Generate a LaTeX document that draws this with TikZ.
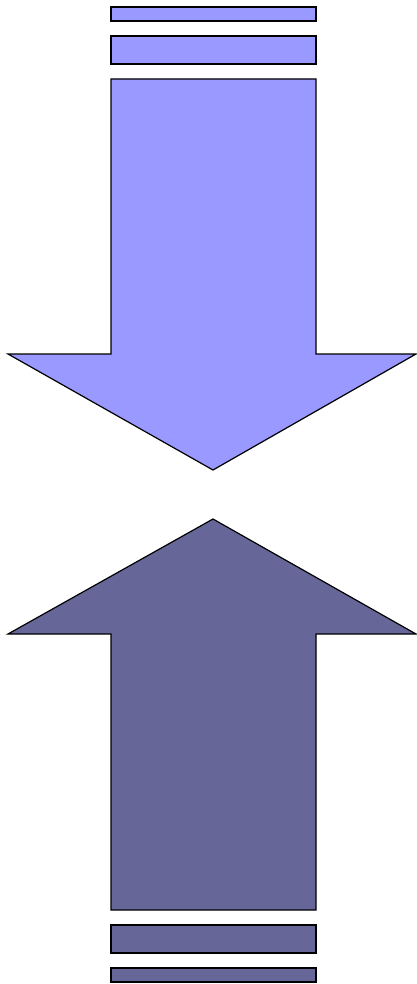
\documentclass[tikz,border=0pt]{standalone}
\usepackage{tikz}

\definecolor{lightblue}{HTML}{9999FF}
\definecolor{darkblue}{HTML}{666699}

\begin{document}
\begin{tikzpicture}[x=1pt, y=-1pt, line width=1.2pt, line join=miter,
        downpart/.style={draw=black, fill=lightblue},
        uppart/.style={draw=black, fill=darkblue}]
        \useasboundingbox (0,0) rectangle (417,984);

        % Flecha hacia abajo
        \draw[downpart] (111,7) rectangle (316,21);
        \draw[downpart] (111,36) rectangle (316,64);
        \draw[downpart] (111,79) -- (316,79) -- (316,354) -- (416,354) -- (213,470)
            -- (8,354) -- (111,354) -- cycle;

        % Flecha hacia arriba
        \draw[uppart] (213,519) -- (416,634) -- (316,634) -- (316,910) -- (111,910)
            -- (111,634) -- (8,634) -- cycle;
        \draw[uppart] (111,925) rectangle (316,953);
        \draw[uppart] (111,968) rectangle (316,982);
    \end{tikzpicture}
\end{document}
